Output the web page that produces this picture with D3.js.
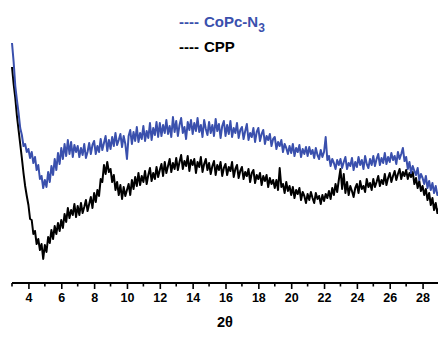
<!DOCTYPE html>
<html>
<head>
<meta charset="utf-8">
<script src="https://cdn.jsdelivr.net/npm/d3@7"></script>
<style>
  html, body { margin: 0; padding: 0; background: #fff; }
  svg { display: block; font-family: "Liberation Sans", Arial, sans-serif; }
</style>
</head>
<body>
<div id="chart"></div>
<script>
// 2θ grid of the scan (start, step) and intensity (a.u.)
const thetaStart = 3.0;
const thetaStep = 0.1;

const copcN3 = [
  240, 221, 197, 183, 170, 155, 148, 137, 139, 131,
  134, 125, 131, 120, 126, 113, 118, 104, 107, 95,
  103, 96, 111, 101, 117, 108, 124, 113, 130, 119,
  135, 124, 139, 127, 143, 129, 141, 126, 138, 131,
  137, 126, 135, 128, 139, 125, 131, 140, 129, 138,
  142, 129, 137, 131, 144, 133, 140, 147, 132, 143,
  134, 146, 137, 150, 138, 143, 149, 136, 147, 139,
  124, 147, 153, 139, 151, 142, 156, 141, 150, 144,
  157, 142, 152, 145, 160, 143, 155, 148, 161, 146,
  160, 147, 158, 150, 163, 149, 157, 146, 166, 151,
  162, 147, 158, 165, 150, 156, 144, 161, 153, 163,
  149, 160, 152, 165, 151, 158, 146, 163, 154, 148,
  161, 150, 158, 147, 164, 152, 159, 145, 157, 162,
  147, 158, 149, 162, 146, 155, 150, 160, 145, 153,
  156, 144, 152, 159, 143, 150, 146, 155, 141, 151,
  155, 142, 149, 153, 139, 147, 143, 149, 137, 144,
  146, 134, 141, 137, 143, 131, 139, 135, 129, 137,
  130, 139, 127, 135, 131, 138, 126, 134, 129, 136,
  127, 136, 129, 133, 125, 135, 128, 124, 133, 126,
  131, 146, 123, 127, 117, 124, 120, 114, 123, 118,
  124, 115, 121, 126, 114, 120, 117, 125, 113, 121,
  116, 126, 118, 123, 114, 127, 119, 115, 124, 118,
  127, 117, 124, 129, 118, 125, 120, 130, 119, 126,
  121, 130, 123, 127, 119, 131, 124, 129, 135, 122,
  126, 114, 121, 110, 117, 112, 108, 115, 103, 109,
  105, 99, 107, 95, 102, 93, 100, 90, 97, 88,
  91
];

const cpp = [
  216, 199, 185, 167, 153, 139, 125, 110, 97, 87,
  78, 64, 63, 49, 52, 39, 44, 33, 39, 24,
  38, 31, 46, 40, 53, 44, 57, 49, 60, 52,
  63, 55, 69, 61, 75, 65, 73, 68, 79, 66,
  77, 68, 80, 70, 76, 83, 72, 79, 86, 75,
  90, 81, 93, 87, 104, 101, 118, 109, 121, 111,
  114, 101, 108, 93, 101, 88, 98, 84, 96, 87,
  93, 99, 88, 103, 94, 106, 97, 110, 98, 107,
  101, 112, 99, 108, 115, 102, 110, 104, 116, 106,
  113, 119, 107, 121, 110, 117, 124, 111, 120, 114,
  125, 113, 121, 128, 114, 122, 117, 127, 112, 123,
  118, 124, 110, 121, 116, 126, 111, 119, 124, 113,
  120, 109, 117, 122, 108, 118, 113, 121, 107, 115,
  119, 108, 116, 112, 121, 106, 114, 118, 105, 112,
  116, 104, 111, 107, 114, 101, 110, 113, 100, 108,
  104, 110, 98, 107, 102, 108, 96, 105, 99, 103,
  95, 103, 93, 115, 96, 99, 90, 101, 92, 97,
  88, 96, 85, 93, 89, 95, 83, 91, 87, 80,
  89, 83, 91, 85, 80, 90, 84, 87, 79, 88,
  82, 89, 85, 92, 84, 95, 88, 99, 91, 103,
  114, 94, 109, 90, 101, 88, 97, 92, 86, 95,
  99, 90, 102, 94, 97, 91, 104, 96, 100, 93,
  104, 96, 101, 107, 97, 103, 99, 109, 98, 105,
  110, 101, 107, 112, 103, 109, 114, 104, 111, 107,
  113, 104, 110, 106, 111, 99, 105, 95, 102, 92,
  97, 88, 94, 83, 90, 78, 85, 73, 80, 70,
  75
];

const majorTicks = [4, 6, 8, 10, 12, 14, 16, 18, 20, 22, 24, 26, 28];
const minorTicks = [3, 5, 7, 9, 11, 13, 15, 17, 19, 21, 23, 25, 27, 29];

const series = [
  { name: "CoPc-N", sub: "3", color: "#3a50ad", values: copcN3 },
  { name: "CPP", sub: "", color: "#000000", values: cpp }
];

const width = 438;
const height = 338;
const axisY = 283;

const x = d3.scaleLinear().domain([3, 29]).range([12, 439]);
const y = d3.scaleLinear().domain([0, 250]).range([axisY, 33]);

const svg = d3.select("#chart").append("svg")
  .attr("width", width)
  .attr("height", height)
  .attr("viewBox", [0, 0, width, height]);

const line = d3.line()
  .x((d, i) => x(thetaStart + i * thetaStep))
  .y(d => y(d));

// black first, blue on top where they overlap
svg.append("g")
  .attr("fill", "none")
  .attr("stroke-width", 2)
  .attr("stroke-linejoin", "round")
  .selectAll("path")
  .data(series.slice().reverse())
  .join("path")
  .attr("stroke", d => d.color)
  .attr("d", d => line(d.values));

// bottom axis
const axis = svg.append("g")
  .attr("transform", `translate(0,${axisY})`)
  .call(d3.axisBottom(x).tickValues(majorTicks).tickSize(6).tickPadding(4).tickFormat(d3.format("d")))
  .call(g => g.select(".domain").attr("d", `M${x(3)},0H${width}`).attr("stroke-width", 2))
  .call(g => g.selectAll(".tick line").attr("stroke-width", 1.6))
  .call(g => g.selectAll(".tick text")
    .attr("font-size", 12.5).attr("font-weight", "bold")
    .attr("font-family", "'Liberation Sans', Arial, sans-serif"));

axis.selectAll(".minor")
  .data(minorTicks)
  .join("line")
  .attr("class", "minor")
  .attr("x1", d => x(d)).attr("x2", d => x(d))
  .attr("y1", 0).attr("y2", 3.5)
  .attr("stroke", "#000")
  .attr("stroke-width", 1.6);

svg.append("text")
  .attr("x", 225)
  .attr("y", 327)
  .attr("text-anchor", "middle")
  .attr("font-size", 14.5)
  .attr("font-weight", "bold")
  .text("2θ");

// legend: dashes then the name
const legend = svg.append("g")
  .selectAll("g")
  .data(series)
  .join("g")
  .attr("transform", (d, i) => `translate(0,${i === 0 ? 27 : 52})`)
  .attr("fill", d => d.color)
  .attr("font-weight", "bold")
  .attr("font-size", 15);

legend.append("text")
  .attr("x", 179)
  .text("----");

const names = legend.append("text")
  .attr("x", 204);

names.append("tspan").text(d => d.name);
names.filter(d => d.sub).append("tspan")
  .attr("dy", 5)
  .attr("font-size", 12)
  .text(d => d.sub);
</script>
</body>
</html>
